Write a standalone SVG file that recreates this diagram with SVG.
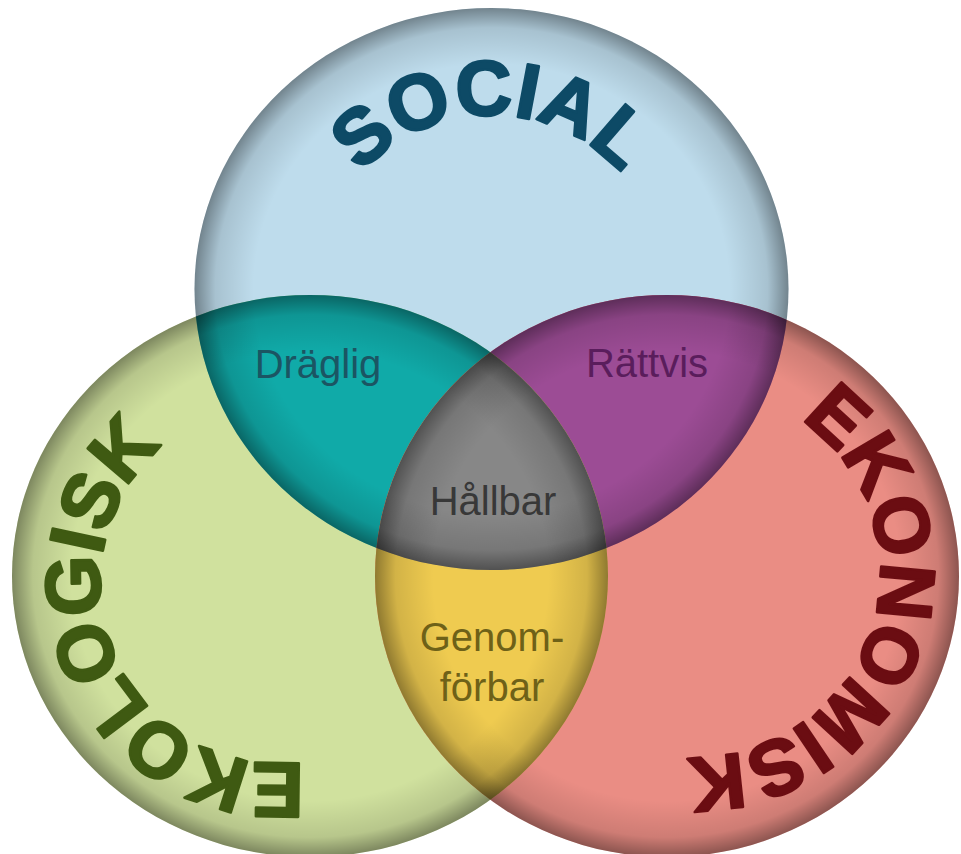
<svg xmlns="http://www.w3.org/2000/svg" width="961" height="854" viewBox="0 0 961 854">
<defs>
<style>
.big{font-family:"Liberation Sans",Arial,sans-serif;font-weight:bold;font-size:78px;stroke-width:2.6;stroke-linejoin:round;}
.lbl{font-family:"Liberation Sans",Arial,sans-serif;font-size:40px;text-anchor:middle;}
</style>
<radialGradient id="vig">
<stop offset="0" stop-color="#000" stop-opacity="0"/>
<stop offset="0.8" stop-color="#000" stop-opacity="0"/>
<stop offset="0.93" stop-color="#000" stop-opacity="0.12"/>
<stop offset="1" stop-color="#000" stop-opacity="0.4"/>
</radialGradient>
<clipPath id="clipTop"><ellipse cx="491.5" cy="289" rx="297" ry="281"/></clipPath>
<clipPath id="clipGreen"><ellipse cx="310" cy="576" rx="298" ry="281"/></clipPath>
<clipPath id="clipRed"><ellipse cx="667" cy="576" rx="292" ry="281"/></clipPath>
<path id="pSocial" d="M317,289 A174,174 0 0 1 665,289"/>
<path id="pEko" d="M380.7,732.2 A180,180 0 1 1 236.5,408.3"/>
<path id="pEkon" d="M722.7,389.1 A185,185 0 1 1 606.4,734.4"/>
</defs>
<rect width="961" height="854" fill="#fff"/>
<g id="circle-social"><ellipse cx="491.5" cy="289" rx="297" ry="281" fill="#bedcec"/></g>
<g id="circle-ekologisk"><ellipse cx="310" cy="576" rx="298" ry="281" fill="#d0e19e"/></g>
<g id="circle-ekonomisk"><ellipse cx="667" cy="576" rx="292" ry="281" fill="#ea8d84"/></g>
<g id="overlap-draglig" clip-path="url(#clipGreen)"><ellipse cx="491.5" cy="289" rx="297" ry="281" fill="#10aaa8"/></g>
<g id="overlap-rattvis" clip-path="url(#clipRed)"><ellipse cx="491.5" cy="289" rx="297" ry="281" fill="#9c4c95"/></g>
<g id="overlap-genomforbar" clip-path="url(#clipRed)"><ellipse cx="310" cy="576" rx="298" ry="281" fill="#efcb50"/></g>
<g id="overlap-hallbar" clip-path="url(#clipRed)"><g clip-path="url(#clipGreen)"><ellipse cx="491.5" cy="289" rx="297" ry="281" fill="#878787"/></g></g>
<g id="shading">
<ellipse cx="491.5" cy="289" rx="297" ry="281" fill="url(#vig)"/>
<ellipse cx="310" cy="576" rx="298" ry="281" fill="url(#vig)"/>
<ellipse cx="667" cy="576" rx="292" ry="281" fill="url(#vig)"/>
</g>
<g id="titles">
<text class="big" fill="#0d4a66" stroke="#0d4a66"><textPath href="#pSocial" startOffset="50%" text-anchor="middle">SOCIAL</textPath></text>
<text class="big" fill="#3f5a12" stroke="#3f5a12"><textPath href="#pEko" startOffset="50%" text-anchor="middle" textLength="462" lengthAdjust="spacing">EKOLOGISK</textPath></text>
<text class="big" fill="#6b0d12" stroke="#6b0d12"><textPath href="#pEkon" startOffset="50%" text-anchor="middle" textLength="478" lengthAdjust="spacing">EKONOMISK</textPath></text>
</g>
<g id="labels">
<text class="lbl" x="318" y="378" fill="#1b5563">Dräglig</text>
<text class="lbl" x="647" y="377" fill="#5a1d5c">Rättvis</text>
<text class="lbl" x="493" y="515" fill="#383838">Hållbar</text>
<text class="lbl" x="492" y="651" fill="#6e6118">Genom-</text>
<text class="lbl" x="492" y="701" fill="#6e6118">förbar</text>
</g>
</svg>
